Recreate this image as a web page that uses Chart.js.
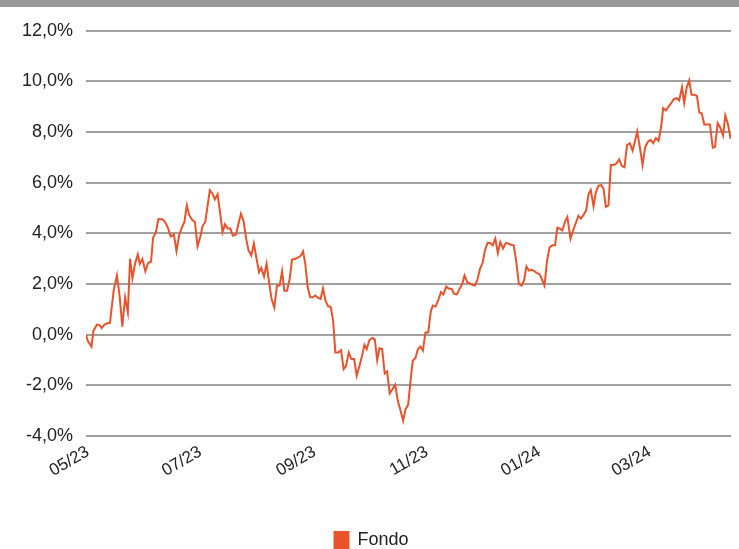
<!DOCTYPE html>
<html>
<head>
<meta charset="utf-8">
<script src="https://cdn.jsdelivr.net/npm/chart.js@4"></script>
<style>
html,body{margin:0;padding:0;background:#fff;}
#bar{width:739px;height:7px;background:#999999;}
#wrap{width:739px;height:542px;position:relative;}
</style>
</head>
<body>
<div id="bar"></div>
<div id="wrap"><canvas id="c"></canvas></div>
<script>
// Day offsets (calendar days since 1 May 2023) of each observation
const days = [0,1,3,4,6,7.4,8.5,10,11.6,13,
15,16.8,18.3,19.7,21.2,22.7,23.9,25.2,26.6,28.1,
29.2,30.6,32.2,33.7,35.3,36.4,37.9,39.3,41.5,42.9,
44.4,46,47.7,49.1,50.5,52,53.4,54.7,56,57.8,
59.1,60.5,62,63.2,64.7,65.9,67.2,68.6,69.9,71.4,
72.7,74.1,75.4,76.8,78.3,79.7,81.4,82.8,84.1,85.5,
87,88.2,89.7,91.1,92.4,93.9,95.1,96.6,98,99.5,
100.7,102.2,103.6,105.1,106.4,107.6,109.1,110.5,111.8,113.6,
115.4,116.7,117.8,119,120.3,121.7,123,124.5,125.9,127.3,
128.6,129.9,131.4,132.8,134.1,135.3,137,138.4,139.8,141.1,
142.6,144,145.5,146.9,148.4,149.8,151.1,152.3,153.8,155.3,
156.7,158,159.2,160.7,162.1,163.4,164.8,166.3,167.8,169.2,
170.7,172.1,173.4,174.8,176.1,177.3,178.8,180.1,181.5,182.8,
184.2,185.7,187.1,188.2,189.7,191.1,192.6,193.9,195.5,196.9,
198.4,199.8,201.3,202.7,204.2,205.4,206.9,208.2,209.6,211,
212.3,213.8,215.2,216.5,217.9,219.4,220.7,222.1,223.5,224.8,
226.3,227.7,229.2,230.6,232.1,233.5,234.9,236.4,237.7,239,
240.4,241.8,243.3,244.7,246.2,247.5,248.8,250.2,251.6,253.1,
254.5,255.8,257.1,258.5,259.8,261.2,262.9,264.3,265.8,267.2,
268.5,269.9,271.4,272.7,273.9,275.4,276.6,278.1,279.5,280.8,
282.1,283.5,284.8,286.4,287.9,289.3,290.8,292.2,293.6,295.1,
296.6,297.8,299.1,300.5,302,303.4,304.9,306.4,307.8,309.2,
310.7,312.1,313.2,314.7,316.1,317.6,319,320.5,321.9,323.4,
324.6,325.9,327.3,328.6,330.1,331.5,332.8,334.1,335.5,337.1,
338.6,340.1,341.3,342.8,344.2,345.7,346.9,348.4,349.8];

// Fund cumulative return (%)
const fondo = [0,-0.25,-0.47,0.15,0.4,0.38,0.26,0.4,0.45,0.47,
1.74,2.34,1.48,0.32,1.48,0.89,3.0,2.23,2.8,3.17,
2.8,2.99,2.5,2.83,2.89,3.83,4.05,4.57,4.56,4.45,
4.23,3.88,3.95,3.3,3.92,4.23,4.45,5.11,4.72,4.52,
4.45,3.49,3.86,4.28,4.45,5.05,5.71,5.58,5.34,5.55,
4.85,4.05,4.36,4.19,4.19,3.91,3.96,4.41,4.78,4.49,
3.75,3.33,3.13,3.6,3.06,2.47,2.64,2.3,2.8,2.0,
1.41,1.07,1.94,1.94,2.51,1.74,1.74,2.2,2.97,3.0,
3.06,3.13,3.29,2.8,1.87,1.48,1.48,1.55,1.45,1.41,
1.83,1.35,1.12,1.1,0.55,-0.7,-0.7,-0.61,-1.36,-1.23,
-0.7,-0.96,-0.96,-1.62,-1.23,-0.83,-0.4,-0.57,-0.21,-0.13,
-0.18,-1.0,-0.54,-0.57,-1.53,-1.45,-2.32,-2.15,-1.98,-2.61,
-3.0,-3.4,-2.94,-2.77,-1.82,-1.03,-0.92,-0.57,-0.47,-0.63,
0.09,0.09,0.92,1.15,1.11,1.35,1.68,1.59,1.9,1.81,
1.81,1.61,1.59,1.81,2.01,2.34,2.07,2.03,1.97,1.94,
2.14,2.6,2.83,3.33,3.62,3.62,3.53,3.79,3.22,3.66,
3.4,3.62,3.6,3.55,3.53,2.87,2.0,1.94,2.14,2.69,
2.53,2.56,2.51,2.43,2.38,2.17,1.94,2.93,3.46,3.53,
3.53,4.23,4.19,4.12,4.45,4.65,3.79,4.12,4.41,4.7,
4.58,4.72,4.91,5.55,5.71,5.07,5.6,5.89,5.91,5.77,
5.05,5.11,6.7,6.7,6.77,6.92,6.66,6.61,7.49,7.56,
7.27,7.62,8.02,7.42,6.7,7.4,7.62,7.69,7.56,7.76,
7.66,8.22,8.95,8.85,9.01,9.15,9.3,9.34,9.25,9.78,
9.15,9.74,10.04,9.47,9.47,9.43,8.77,8.74,8.3,8.3,
8.3,7.38,7.42,8.35,8.17,7.87,8.66,8.3,7.73];

// X tick labels and their day offsets
const xTickLabels = ['05/23','07/23','09/23','11/23','01/24','03/24'];
const xTickDays = [1,62,124,185,246,306];
// Y tick values (%)
const yTicks = [-4,-2,0,2,4,6,8,10,12];

const seriesName = 'Fondo';
const lineColor = '#e9532c';
const gridColor = '#a0a0a0';
const FONT = '"Liberation Sans", Arial, sans-serif';

const points = days.map((d, i) => ({x: d, y: fondo[i]}));

// nudge the legend slightly to the right, as in the reference
const legendShift = {
  id: 'legendShift',
  afterLayout(chart) {
    if (chart.legend) { chart.legend.left += 6; chart.legend.right += 6; }
  }
};

new Chart(document.getElementById('c'), {
  type: 'line',
  data: {
    datasets: [{
      label: seriesName,
      data: points,
      borderColor: lineColor,
      backgroundColor: lineColor,
      borderWidth: 2,
      pointRadius: 0,
      tension: 0,
      fill: false
    }]
  },
  plugins: [legendShift],
  options: {
    responsive: true,
    maintainAspectRatio: false,
    animation: false,
    layout: {padding: {top: 22, right: 8, left: 0, bottom: -10}},
    plugins: {
      tooltip: {enabled: false},
      legend: {
        position: 'bottom',
        labels: {
          color: '#222',
          font: {family: FONT, size: 18},
          boxWidth: 14,
          boxHeight: 17,
          padding: 0
        }
      }
    },
    scales: {
      x: {
        type: 'linear',
        min: 0,
        max: 350,
        afterBuildTicks: (s) => { s.ticks = xTickDays.map(v => ({value: v})); },
        afterFit: (s) => { s.height = 95; },
        grid: {display: false, drawTicks: false},
        border: {display: false},
        ticks: {
          autoSkip: false,
          minRotation: 30,
          maxRotation: 30,
          padding: 6,
          color: '#222',
          font: {family: FONT, size: 17},
          callback: (v) => { const k = xTickDays.indexOf(v); return k >= 0 ? xTickLabels[k] : ''; }
        }
      },
      y: {
        min: -4,
        max: 12,
        afterBuildTicks: (s) => { s.ticks = yTicks.map(v => ({value: v})); },
        afterFit: (s) => { s.width = 86; },
        grid: {color: gridColor, lineWidth: 2, drawTicks: false},
        border: {display: false},
        ticks: {
          padding: 13,
          color: '#222',
          font: {family: FONT, size: 18},
          callback: (v) => v.toFixed(1).replace('.', ',') + '%'
        }
      }
    }
  }
});
</script>
</body>
</html>
